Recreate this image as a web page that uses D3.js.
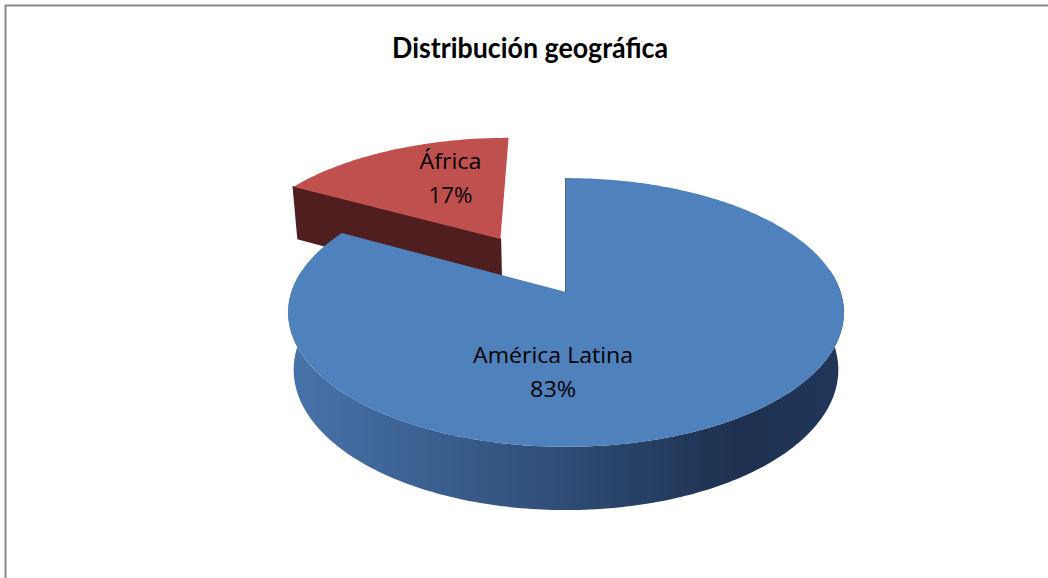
<!DOCTYPE html>
<html>
<head>
<meta charset="utf-8">
<script src="https://cdn.jsdelivr.net/npm/d3@7"></script>
<style>
  body { margin: 0; background: #fff; }
  svg { display: block; }
</style>
</head>
<body>
<div id="chart"></div>
<script>
const categories = ['América Latina', 'África']
const values = [83, 17]
const percentLabels = ['83%', '17%']
const title = 'Distribución geográfica'

const width = 1048
const height = 578

const topColors = ['#4f81bd', '#c0504d']
const sideColors = ['#1e3150', '#4f1f1f']
const explode = [0, 0.5]
// label anchor in slice coords: angle (deg) and radius fraction
const labelAnchor = [{ a: 184.4, r: 0.56 }, { a: 338, r: 0.615 }]
const labelWidths = [[160, 46], [62, 44]]

// simple perspective camera for the tilted pie
const cx = 566
const cy = 292
const tiltSin = 0.478
const tiltCos = Math.sqrt(1 - tiltSin * tiltSin)
const camDist = 5.764
const focal = 1583
const depth = 0.24

function project(x, w, y) {
  // x: right, w: toward viewer, y: up
  const z = camDist - y * tiltSin - w * tiltCos
  return [cx + (focal * x) / z, cy + (focal * (w * tiltSin - y * tiltCos)) / z]
}

const svg = d3
  .select('#chart')
  .append('svg')
  .attr('width', width)
  .attr('height', height)

svg
  .append('rect')
  .attr('x', 5.5)
  .attr('y', 5.5)
  .attr('width', width + 20)
  .attr('height', height + 20)
  .attr('fill', '#fff')
  .attr('stroke', '#8a8a8a')
  .attr('stroke-width', 2)

const defs = svg.append('defs')
const grad = defs
  .append('linearGradient')
  .attr('id', 'wall-grad')
  .attr('gradientUnits', 'userSpaceOnUse')
  .attr('x1', 290)
  .attr('x2', 846)
  .attr('y1', 0)
  .attr('y2', 0)
grad.append('stop').attr('offset', '0%').attr('stop-color', '#4873aa')
grad.append('stop').attr('offset', '45%').attr('stop-color', '#30507b')
grad.append('stop').attr('offset', '80%').attr('stop-color', '#1e3150')
grad.append('stop').attr('offset', '100%').attr('stop-color', '#21365a')

svg
  .append('text')
  .attr('x', 530)
  .attr('y', 58)
  .attr('text-anchor', 'middle')
  .attr('font-family', 'Lato, "Open Sans", sans-serif')
  .attr('font-weight', 'bold')
  .attr('font-size', 28)
  .attr('textLength', 276)
  .attr('lengthAdjust', 'spacingAndGlyphs')
  .text(title)

const pie = d3.pie().sort(null).startAngle(0).endAngle(2 * Math.PI)
const arcs = pie(values)

const line = d3.line()

function arcPoints(a0, a1, ox, ow, y, n) {
  const pts = []
  for (let i = 0; i <= n; i++) {
    const t = a0 + ((a1 - a0) * i) / n
    pts.push(project(ox + Math.sin(t), ow - Math.cos(t), y))
  }
  return pts
}

function offsetFor(d, i) {
  const mid = (d.startAngle + d.endAngle) / 2
  return [explode[i] * Math.sin(mid), -explode[i] * Math.cos(mid)]
}

// front part of the rim, the only part the viewer sees
const frontFrom = (80 * Math.PI) / 180
const frontTo = (280 * Math.PI) / 180

// draw back slice first
const order = [1, 0]

order.forEach(i => {
  const d = arcs[i]
  const [ox, ow] = offsetFor(d, i)
  const g = svg.append('g').attr('class', 'slice')
  const n = Math.max(8, Math.round((d.endAngle - d.startAngle) * 60))

  // outer wall
  const w0 = Math.max(d.startAngle, frontFrom)
  const w1 = Math.min(d.endAngle, frontTo)
  if (w1 > w0) {
    const m = Math.max(8, Math.round((w1 - w0) * 60))
    const topArc = arcPoints(w0, w1, ox, ow, 0, m)
    const botArc = arcPoints(w0, w1, ox, ow, -depth, m)
    g.append('path')
      .attr('d', line(topArc.concat(botArc.reverse())) + 'Z')
      .attr('fill', i === 0 ? 'url(#wall-grad)' : sideColors[i])
  }

  // radial cut face on the start edge (the one facing the viewer)
  const a = d.startAngle
  const c0 = project(ox, ow, 0)
  const c1 = project(ox, ow, -depth)
  const e0 = project(ox + Math.sin(a), ow - Math.cos(a), 0)
  const e1 = project(ox + Math.sin(a), ow - Math.cos(a), -depth)
  g.append('path')
    .attr('d', line([c0, e0, e1, c1]) + 'Z')
    .attr('fill', sideColors[i])
    .attr('stroke', sideColors[i])
    .attr('stroke-width', 1.5)

  // top face
  const face = [project(ox, ow, 0)].concat(
    arcPoints(d.startAngle, d.endAngle, ox, ow, 0, n)
  )
  g.append('path')
    .attr('d', line(face) + 'Z')
    .attr('fill', topColors[i])

  // label
  const la = (labelAnchor[i].a * Math.PI) / 180
  const lr = labelAnchor[i].r
  const p = project(ox + lr * Math.sin(la), ow - lr * Math.cos(la), 0)
  const lines = [categories[i], percentLabels[i]]
  lines.forEach((txt, j) => {
    g.append('text')
      .attr('x', p[0])
      .attr('y', p[1] + (j === 0 ? -9 : 25))
      .attr('text-anchor', 'middle')
      .attr('font-family', '"Open Sans", sans-serif')
      .attr('font-size', 22)
      .attr('textLength', labelWidths[i][j])
      .attr('lengthAdjust', 'spacingAndGlyphs')
      .attr('fill', '#000')
      .text(txt)
  })
})
</script>
</body>
</html>
